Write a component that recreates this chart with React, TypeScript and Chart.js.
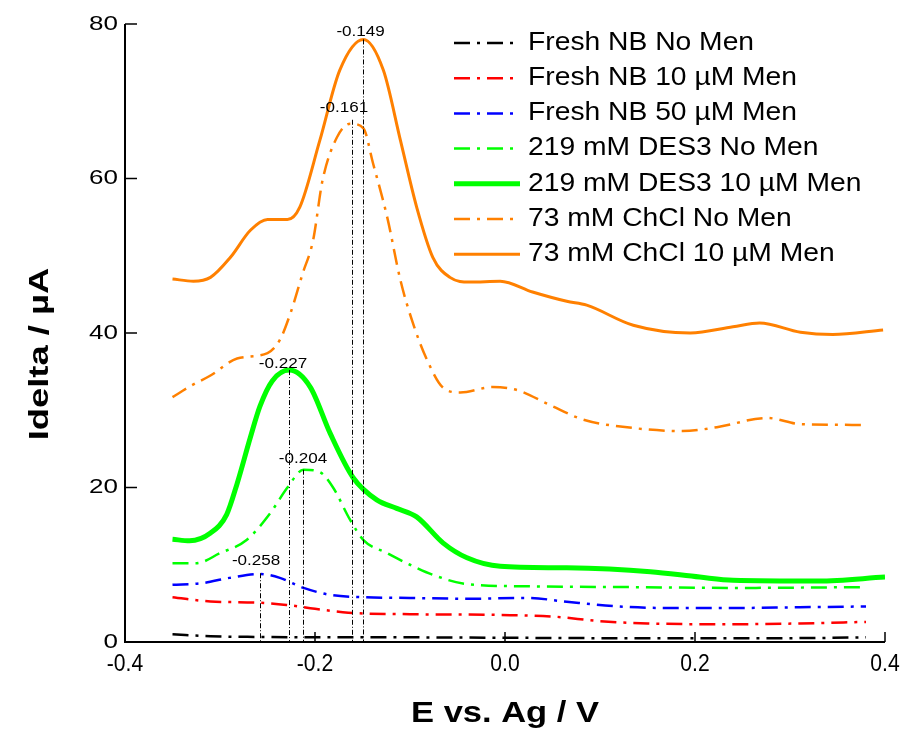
import { useEffect, useRef } from 'react';
import { Chart, registerables } from 'chart.js';

Chart.register(...registerables);

// ---------- data ----------
const xTicks = [-0.4, -0.2, 0.0, 0.2, 0.4];
const yTicks = [0, 20, 40, 60, 80];

const seriesNames = [
  'Fresh NB No Men',
  'Fresh NB 10 \u00b5M Men',
  'Fresh NB 50 \u00b5M Men',
  '219 mM DES3 No Men',
  '219 mM DES3 10 \u00b5M Men',
  '73 mM ChCl No Men',
  '73 mM ChCl 10 \u00b5M Men',
];

const freshNoMenE = [-0.35, -0.31, -0.26, -0.2, -0.1, 0.0, 0.1, 0.2, 0.3, 0.38];
const freshNoMenI = [1.0, 0.75, 0.65, 0.6, 0.6, 0.55, 0.5, 0.5, 0.5, 0.6];

const fresh10E = [-0.35, -0.31, -0.26, -0.23, -0.2, -0.165, -0.1, -0.005, 0.05, 0.1, 0.15, 0.24, 0.31, 0.38];
const fresh10I = [5.8, 5.25, 5.1, 4.8, 4.3, 3.8, 3.6, 3.5, 3.3, 2.7, 2.4, 2.3, 2.4, 2.6];

const fresh50E = [-0.35, -0.32, -0.29, -0.258, -0.237, -0.212, -0.184, -0.15, -0.1, -0.04, 0.025, 0.065, 0.12, 0.17, 0.24, 0.31, 0.38];
const fresh50I = [7.4, 7.6, 8.3, 8.8, 8.3, 7.0, 6.1, 5.8, 5.7, 5.6, 5.7, 5.2, 4.6, 4.4, 4.4, 4.5, 4.6];

const desNoMenE = [-0.35, -0.325, -0.3, -0.272, -0.247, -0.229, -0.212, -0.195, -0.181, -0.163, -0.149, -0.124, -0.1, -0.076, -0.04, 0.03, 0.135, 0.24, 0.38];
const desNoMenI = [10.2, 10.2, 11.5, 13.2, 16.7, 20.0, 22.3, 22.0, 20.0, 15.8, 13.2, 11.5, 10.0, 8.7, 7.5, 7.2, 7.1, 7.0, 7.1];

const des10E = [-0.35, -0.332, -0.31, -0.293, -0.282, -0.268, -0.258, -0.245, -0.227, -0.205, -0.184, -0.16, -0.135, -0.114, -0.093, -0.065, -0.04, -0.005, 0.065, 0.153, 0.205, 0.24, 0.33, 0.4];
const des10I = [13.3, 13.1, 14.1, 16.5, 20.5, 26.5, 30.5, 33.8, 35.2, 33.0, 27.0, 21.3, 18.4, 17.3, 16.2, 12.8, 10.9, 9.8, 9.6, 9.1, 8.4, 8.0, 7.9, 8.4];

const chclNoMenE = [-0.35, -0.33, -0.31, -0.282, -0.25, -0.237, -0.226, -0.213, -0.202, -0.192, -0.177, -0.163, -0.149, -0.139, -0.124, -0.11, -0.097, -0.082, -0.065, -0.047, -0.013, 0.013, 0.047, 0.082, 0.135, 0.187, 0.223, 0.276, 0.311, 0.377];
const chclNoMenI = [31.7, 33.2, 34.5, 36.7, 37.4, 39.1, 42.5, 47.7, 52.0, 59.8, 65.3, 67.1, 66.5, 62.0, 55.0, 46.8, 41.3, 36.5, 32.9, 32.3, 33.0, 32.6, 30.7, 28.8, 27.7, 27.3, 27.8, 29.0, 28.2, 28.1];

const chcl10E = [-0.35, -0.328, -0.31, -0.289, -0.268, -0.25, -0.229, -0.216, -0.195, -0.174, -0.149, -0.128, -0.11, -0.093, -0.076, -0.058, -0.037, -0.005, 0.029, 0.065, 0.086, 0.135, 0.195, 0.24, 0.268, 0.311, 0.345, 0.398];
const chcl10I = [47.0, 46.7, 47.2, 49.8, 53.3, 54.7, 54.7, 56.3, 64.9, 74.0, 78.0, 74.0, 64.9, 56.3, 49.8, 47.2, 46.6, 46.7, 45.3, 44.1, 43.6, 41.0, 40.0, 40.8, 41.3, 40.1, 39.8, 40.4];

// peak annotations
const peakLabels = ['-0.149', '-0.161', '-0.227', '-0.204', '-0.258'];
const peakLineE = [-0.149, -0.161, -0.227, -0.2125, -0.258];
const peakTopI = [78.0, 67.6, 35.2, 22.3, 8.9];
const peakLabelE = [-0.152, -0.1695, -0.2337, -0.2126, -0.262];
const peakLabelI = [79.0, 69.1, 36.0, 23.7, 10.5];

// ---------- styles ----------
const FONT = '"Liberation Sans", Arial, Helvetica, sans-serif';
const DASHDOT = [16, 7, 3, 7];
const seriesColors = ['#000000', '#ff0000', '#0000ff', '#00ff00', '#00ff00', '#ff8000', '#ff8000'];
const seriesDash = [DASHDOT, DASHDOT, DASHDOT, DASHDOT, [], DASHDOT, []];
const seriesWidth = [2.5, 2.5, 2.5, 2.5, 5, 2.5, 3];

const seriesE = [freshNoMenE, fresh10E, fresh50E, desNoMenE, des10E, chclNoMenE, chcl10E];
const seriesI = [freshNoMenI, fresh10I, fresh50I, desNoMenI, des10I, chclNoMenI, chcl10I];

function drawText(
  ctx: CanvasRenderingContext2D,
  text: string,
  x: number,
  y: number,
  font: string,
  sx: number,
  align: CanvasTextAlign,
  rot = 0
) {
  ctx.save();
  ctx.translate(x, y);
  if (rot) ctx.rotate(rot);
  ctx.scale(sx, 1);
  ctx.font = font;
  ctx.fillStyle = '#000';
  ctx.textAlign = align;
  ctx.textBaseline = 'middle';
  ctx.fillText(text, 0, 0);
  ctx.restore();
}

const decorPlugin = {
  id: 'decor',
  afterDatasetsDraw(chart: any) {
    const ctx: CanvasRenderingContext2D = chart.ctx;
    const xs = chart.scales.x;
    const ys = chart.scales.y;
    const area = chart.chartArea;

    // peak drop lines
    ctx.save();
    ctx.strokeStyle = '#000';
    ctx.lineWidth = 1;
    ctx.setLineDash([5, 2, 1, 2]);
    for (let i = 0; i < peakLineE.length; i++) {
      const px = Math.round(xs.getPixelForValue(peakLineE[i])) + 0.5;
      ctx.beginPath();
      ctx.moveTo(px, ys.getPixelForValue(peakTopI[i]));
      ctx.lineTo(px, area.bottom);
      ctx.stroke();
    }
    ctx.restore();

    // peak labels
    for (let i = 0; i < peakLabels.length; i++) {
      drawText(ctx, peakLabels[i], xs.getPixelForValue(peakLabelE[i]), ys.getPixelForValue(peakLabelI[i]), `14px ${FONT}`, 1.22, 'center');
    }
  },
  afterDraw(chart: any) {
    const ctx: CanvasRenderingContext2D = chart.ctx;
    const xs = chart.scales.x;
    const ys = chart.scales.y;
    const area = chart.chartArea;

    // axes
    ctx.save();
    ctx.strokeStyle = '#000';
    ctx.lineWidth = 2;
    ctx.setLineDash([]);
    ctx.beginPath();
    ctx.moveTo(area.left, area.top);
    ctx.lineTo(area.left, area.bottom);
    ctx.lineTo(area.right, area.bottom);
    ctx.stroke();
    // inward ticks
    ctx.lineWidth = 1.5;
    for (const v of yTicks) {
      const py = ys.getPixelForValue(v);
      ctx.beginPath();
      ctx.moveTo(area.left, py);
      ctx.lineTo(area.left + 12, py);
      ctx.stroke();
    }
    for (const v of xTicks) {
      const px = xs.getPixelForValue(v);
      ctx.beginPath();
      ctx.moveTo(px, area.bottom);
      ctx.lineTo(px, area.bottom - 10);
      ctx.stroke();
    }
    ctx.restore();

    // tick labels
    for (const v of yTicks) {
      drawText(ctx, String(v), area.left - 7, ys.getPixelForValue(v), `20px ${FONT}`, 1.3, 'right');
    }
    for (const v of xTicks) {
      drawText(ctx, v.toFixed(1), xs.getPixelForValue(v), area.bottom + 22, `24px ${FONT}`, 0.88, 'center');
    }

    // axis titles
    drawText(ctx, 'E vs. Ag / V', (area.left + area.right) / 2, 714, `bold 30px ${FONT}`, 1.15, 'center');
    drawText(ctx, 'Idelta / \u00b5A', 40, 354, `bold 28px ${FONT}`, 1.3, 'center', -Math.PI / 2);

    // legend
    const lx0 = 454;
    const lx1 = 520;
    const ly0 = 43;
    const lstep = 35.2;
    for (let i = 0; i < seriesNames.length; i++) {
      const y = ly0 + i * lstep;
      ctx.save();
      ctx.strokeStyle = seriesColors[i];
      ctx.lineWidth = i === 4 ? 5 : seriesWidth[i];
      ctx.setLineDash(seriesDash[i]);
      ctx.beginPath();
      ctx.moveTo(lx0, y);
      ctx.lineTo(lx1, y);
      ctx.stroke();
      ctx.restore();
      drawText(ctx, seriesNames[i], 528, y, `25px ${FONT}`, 1.13, 'left');
    }
  },
};

export default function App() {
  const canvasRef = useRef<HTMLCanvasElement | null>(null);

  useEffect(() => {
    const canvas = canvasRef.current;
    if (!canvas) return;
    const datasets = seriesNames.map((name, i) => ({
      label: name,
      data: seriesE[i].map((e, k) => ({ x: e, y: seriesI[i][k] })),
      borderColor: seriesColors[i],
      backgroundColor: seriesColors[i],
      borderWidth: seriesWidth[i],
      borderDash: seriesDash[i],
      pointRadius: 0,
      fill: false,
      cubicInterpolationMode: 'monotone' as const,
      order: i === 4 ? 0 : 1,
    }));

    const chart = new Chart(canvas, {
      type: 'line',
      data: { datasets },
      options: {
        responsive: false,
        devicePixelRatio: 1,
        animation: false,
        layout: { padding: { left: 0, right: 16, top: 24, bottom: 0 } },
        plugins: {
          legend: { display: false },
          tooltip: { enabled: false },
        },
        scales: {
          x: {
            type: 'linear',
            min: -0.4,
            max: 0.4,
            ticks: { display: false, stepSize: 0.2 },
            grid: { display: false },
            border: { display: false },
            afterFit: (s: any) => {
              s.height = 91;
              s.paddingLeft = 0;
              s.paddingRight = 0;
            },
          },
          y: {
            type: 'linear',
            min: 0,
            max: 80,
            ticks: { display: false, stepSize: 20 },
            grid: { display: false },
            border: { display: false },
            afterFit: (s: any) => {
              s.width = 125;
              s.paddingTop = 0;
              s.paddingBottom = 0;
            },
          },
        },
      },
      plugins: [decorPlugin],
    });
    return () => chart.destroy();
  }, []);

  return (
    <div style={{ position: 'absolute', left: 0, top: 0, width: 901, height: 733, background: '#fff' }}>
      <canvas ref={canvasRef} width={901} height={733} style={{ display: 'block' }} />
    </div>
  );
}
